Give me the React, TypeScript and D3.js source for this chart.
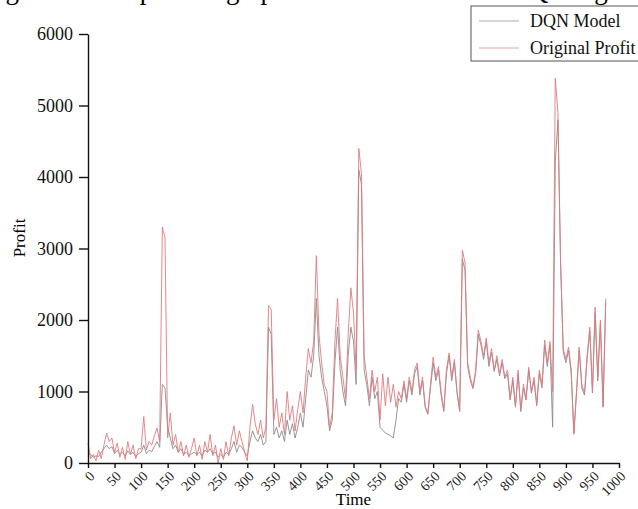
import React, { useEffect, useRef } from 'react';
import * as d3 from 'd3';

// time step between samples
const STEP = 5;

// Original Profit (red), one value every 5 time units, t = 0 .. 975
const originalProfit = [
  280, 60, 120, 30, 180, 60, 250, 420, 300, 350,
  150, 280, 80, 220, 50, 300, 120, 250, 60, 200,
  200, 650, 180, 300, 250, 380, 490, 300, 3300, 3150,
  350, 700, 250, 400, 150, 300, 100, 250, 80, 200,
  350, 100, 250, 50, 300, 150, 400, 100, 250, 0,
  200, 50, 300, 100, 350, 520, 250, 450, 300, 150,
  30, 500, 820, 550, 400, 600, 350, 500, 2200, 2150,
  600, 900, 500, 700, 400, 1000, 600, 800, 450, 750,
  1000, 700, 1200, 1600, 1400, 1700, 2900, 1800, 1400, 1100,
  1000, 500, 700, 1700, 2300, 1500, 1200, 900, 1800, 2450,
  2100, 1300, 4400, 4050, 1500, 1200, 900, 1300, 1000, 1200,
  600, 1250, 800, 1200, 850, 1100, 780, 1000, 900, 1150,
  900, 1200, 1000, 1300, 1400, 1000, 1200, 800, 700, 1100,
  1480, 1200, 1350, 1000, 740, 1300, 1540, 1200, 1450, 1000,
  740, 2980, 2800, 1400, 1200, 1060, 1300, 1860, 1700, 1500,
  1750, 1400, 1600, 1300, 1500, 1250, 1450, 1200, 1300, 900,
  1200, 800, 1300, 740, 1100, 900, 1340, 1000, 1200, 830,
  1300, 1100, 1720, 1400, 1700, 1000, 5380, 4900, 2800, 1600,
  1450, 1620, 1300, 400, 1000, 1620, 1100, 980, 1500, 1900,
  1000, 2180, 1200, 2000, 800, 2300,
];

// DQN Model (gray)
const dqnModel = [
  150, 120, 80, 100, 90, 150, 200, 250, 200, 230,
  130, 180, 120, 150, 100, 170, 120, 150, 90, 130,
  150, 250, 130, 180, 160, 230, 300, 220, 1100, 1050,
  500, 350, 200, 250, 150, 200, 120, 150, 100, 130,
  150, 120, 150, 100, 180, 150, 200, 130, 150, 80,
  120, 80, 150, 120, 200, 300, 150, 250, 220, 150,
  100, 300, 450, 350, 300, 400, 250, 300, 1900, 1800,
  400, 500, 350, 450, 300, 600, 400, 550, 350, 500,
  700, 500, 900, 1300, 1200, 1500, 2300, 1500, 1200, 1000,
  800, 450, 600, 1400, 1900, 1300, 1000, 800, 1500, 1900,
  1700, 1100, 4100, 3900, 1300, 1100, 800, 1200, 900, 1000,
  500, 460, 420, 400, 380, 350, 600, 900, 850, 1100,
  850, 1150, 950, 1250, 1350, 950, 1150, 780, 680, 1050,
  1400, 1150, 1300, 950, 720, 1250, 1500, 1150, 1400, 980,
  720, 2850, 2700, 1350, 1150, 1040, 1250, 1800, 1650, 1450,
  1700, 1350, 1550, 1280, 1450, 1220, 1400, 1180, 1250, 880,
  1150, 780, 1250, 720, 1050, 880, 1300, 980, 1150, 800,
  1250, 1050, 1650, 1350, 1650, 500, 4200, 4800, 2800, 1550,
  1400, 1580, 1250, 420, 980, 1580, 1050, 950, 1450, 1850,
  980, 2100, 1150, 1950, 780, 2250,
];

const xTicks = [0, 50, 100, 150, 200, 250, 300, 350, 400, 450, 500, 550, 600, 650, 700, 750, 800, 850, 900, 950, 1000];
const yTicks = [0, 1000, 2000, 3000, 4000, 5000, 6000];
const legendLabels = ['DQN Model', 'Original Profit'];

const RED = '#e27a80';
const GRAY = '#8a8a8a';
const FONT = '"Liberation Serif", "Times New Roman", serif';

const App = () => {
  const ref = useRef<SVGSVGElement>(null);

  useEffect(() => {
    const width = 638;
    const height = 509;
    const svg = d3.select(ref.current);
    svg.selectAll('*').remove();

    const margin = { top: 34, right: 19, bottom: 46, left: 88 };

    const x = d3.scaleLinear().domain([0, 1000]).range([margin.left, width - margin.right]);
    const y = d3.scaleLinear().domain([0, 6000]).range([height - margin.bottom, margin.top]);

    svg.append('rect').attr('width', width).attr('height', height).attr('fill', '#fff');

    // caption of the page above, only its descenders are visible
    svg.append('text')
      .attr('x', -17)
      .attr('y', -1)
      .attr('font-family', FONT)
      .attr('font-size', 27)
      .text('Figure 7. Comparison graph of the results of the DQN algorithm');

    // lines
    const line = d3.line<number>()
      .x((_, i) => x(i * STEP))
      .y(d => y(d));

    svg.append('path')
      .datum(dqnModel)
      .attr('fill', 'none')
      .attr('stroke', GRAY)
      .attr('stroke-width', 0.9)
      .attr('d', line);

    svg.append('path')
      .datum(originalProfit)
      .attr('fill', 'none')
      .attr('stroke', RED)
      .attr('stroke-width', 0.9)
      .attr('d', line);

    // axes
    const fmt = d3.format('d');
    const yAxis = svg.append('g')
      .attr('transform', `translate(${margin.left},0)`)
      .call(d3.axisLeft(y).tickValues(yTicks).tickFormat(fmt).tickSize(9).tickSizeOuter(0).tickPadding(6));
    yAxis.selectAll('path, line').attr('stroke', '#111').attr('stroke-width', 1.4);
    yAxis.selectAll('text')
      .attr('font-family', FONT)
      .attr('font-size', 18)
      .attr('fill', '#111');

    const xAxis = svg.append('g')
      .attr('transform', `translate(0,${height - margin.bottom})`)
      .call(d3.axisBottom(x).tickValues(xTicks).tickFormat(fmt).tickSize(5).tickSizeOuter(0));
    xAxis.selectAll('path, line').attr('stroke', '#111').attr('stroke-width', 1.4);
    xAxis.selectAll('text')
      .attr('font-family', FONT)
      .attr('font-size', 14)
      .attr('fill', '#222')
      .attr('text-anchor', 'end')
      .attr('dy', null)
      .attr('y', 0)
      .attr('transform', 'translate(7,14) rotate(-45)');

    // axis titles
    svg.append('text')
      .attr('x', (margin.left + width - margin.right) / 2)
      .attr('y', 505)
      .attr('text-anchor', 'middle')
      .attr('font-family', FONT)
      .attr('font-size', 17)
      .text('Time');

    svg.append('text')
      .attr('transform', 'translate(25,238) rotate(-90)')
      .attr('text-anchor', 'middle')
      .attr('font-family', FONT)
      .attr('font-size', 17)
      .text('Profit');

    // legend
    const legend = svg.append('g');
    legend.append('rect')
      .attr('x', 471)
      .attr('y', 6)
      .attr('width', 200)
      .attr('height', 55)
      .attr('fill', '#fff')
      .attr('stroke', '#555')
      .attr('stroke-width', 1);

    const legendColors = [GRAY, RED];
    legendLabels.forEach((label, i) => {
      const ly = 21 + i * 27;
      legend.append('line')
        .attr('x1', 479).attr('x2', 519)
        .attr('y1', ly).attr('y2', ly)
        .attr('stroke', legendColors[i])
        .attr('stroke-opacity', 0.7)
        .attr('stroke-width', 1);
      legend.append('text')
        .attr('x', 530)
        .attr('y', ly + 6)
        .attr('font-family', FONT)
        .attr('font-size', 18)
        .attr('fill', '#111')
        .text(label);
    });
  }, []);

  return (
    <svg
      ref={ref}
      width={638}
      height={509}
      style={{ position: 'absolute', left: 0, top: 0 }}
    />
  );
};

export default App;
